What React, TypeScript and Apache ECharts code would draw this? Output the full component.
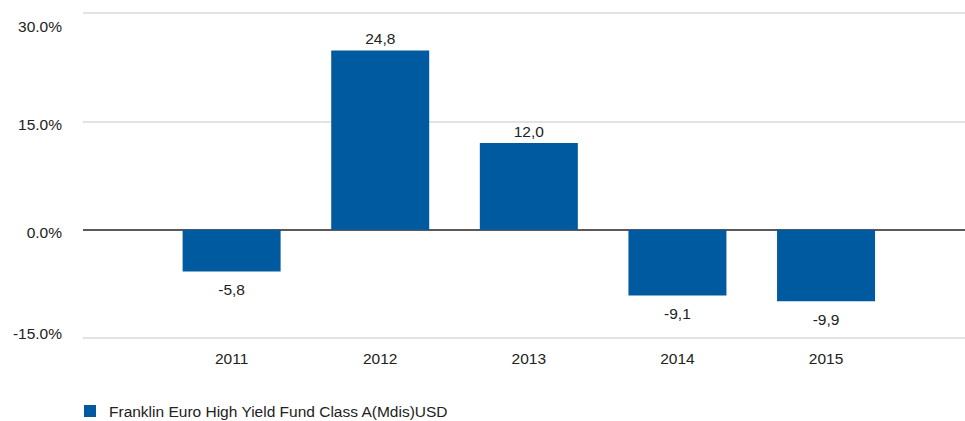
import React, { useEffect, useRef } from "react";
import * as echarts from "echarts";

const years = ["2011", "2012", "2013", "2014", "2015"];
const returns = [-5.8, 24.8, 12.0, -9.1, -9.9];
const yTicks = [-15, 0, 15, 30];
const seriesName = "Franklin Euro High Yield Fund Class A(Mdis)USD";

const FONT = "'Liberation Sans', Arial, sans-serif";
const FS = 15.5;

export default function App() {
  const ref = useRef<HTMLDivElement>(null);
  useEffect(() => {
    if (!ref.current) return;
    const chart = echarts.init(ref.current, undefined, { renderer: "svg" });
    const richFor = (v: number) => {
      if (v === 30) return "{a|30.0%}";
      if (v === 15 || v === 0) return "{b|" + v.toFixed(1) + "%}";
      return "{c|" + v.toFixed(1) + "%}";
    };
    chart.setOption({
      animation: false,
      textStyle: { fontFamily: FONT },
      grid: { left: 83, right: 0, top: 13, bottom: 83, containLabel: false, outerBoundsMode: "none" },
      xAxis: {
        type: "value",
        min: 0,
        max: 5.935,
        interval: 1,
        splitLine: { show: false },
        axisTick: { show: false },
        axisLine: { show: false, onZero: false },
        axisLabel: {
          show: true,
          color: "#222",
          fontSize: FS,
          fontFamily: FONT,
          margin: 12,
          showMaxLabel: false,
          formatter: (v: number) => {
            const i = Math.round(v) - 1;
            return Math.abs(v - Math.round(v)) < 1e-6 && i >= 0 && i < years.length ? years[i] : "";
          },
        },
      },
      yAxis: {
        type: "value",
        min: yTicks[0],
        max: yTicks[yTicks.length - 1],
        interval: 15,
        axisLine: { show: false },
        axisTick: { show: false },
        splitLine: {
          show: true,
          lineStyle: { color: ["#e3e3e3", "#5a5a5a", "#e3e3e3", "#e3e3e3"], width: 2 },
        },
        axisLabel: {
          color: "#222",
          margin: 21,
          formatter: richFor,
          rich: {
            a: { fontSize: FS, fontFamily: FONT, color: "#222", padding: [26, 0, 0, 0] },
            b: { fontSize: FS, fontFamily: FONT, color: "#222", padding: [6, 0, 0, 0] },
            c: { fontSize: FS, fontFamily: FONT, color: "#222", padding: [0, 0, 10, 0] },
          },
        },
      },
      legend: {
        left: 79,
        top: 398,
        icon: "rect",
        itemWidth: 12,
        itemHeight: 12,
        textStyle: { color: "#222", fontSize: FS, fontFamily: FONT, padding: [0, 0, 0, 8] },
        data: [seriesName],
      },
      series: [
        {
          name: seriesName,
          type: "bar",
          barWidth: 98,
          itemStyle: { color: "#005aa0" },
          data: returns.map((v, i) => ({
            value: [i + 1, v],
            label: {
              show: true,
              position: v >= 0 ? "top" : "bottom",
              distance: v >= 0 ? 4 : 10,
              color: "#222",
              fontSize: FS,
              fontFamily: FONT,
              formatter: () => v.toFixed(1).replace(".", ","),
            },
          })),
        },
      ],
    });
    return () => chart.dispose();
  }, []);
  return <div ref={ref} style={{ width: 965, height: 421, position: "absolute", left: 0, top: 0 }} />;
}
